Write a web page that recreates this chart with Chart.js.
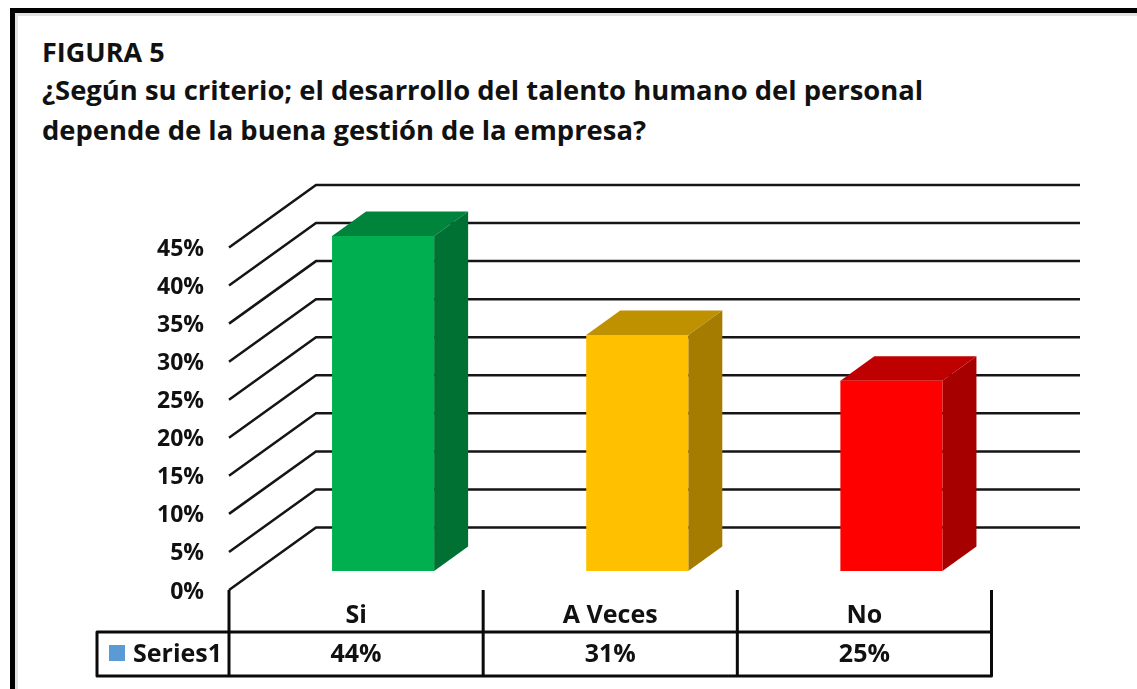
<!DOCTYPE html>
<html>
<head>
<meta charset="utf-8">
<style>
html,body{margin:0;padding:0;background:#fff;width:1137px;height:689px;overflow:hidden}
#frame{position:absolute;left:10px;top:8px;width:1300px;height:900px;border:5px solid #000;box-shadow:inset 3px 3px 0 #e2e2e2}
.t{position:absolute;left:42px;font-family:"Open Sans",sans-serif;font-weight:700;color:#111;white-space:nowrap}
#c{position:absolute;left:0;top:0}
</style>
</head>
<body>
<div id="frame"></div>
<div class="t" style="top:33px;font-size:27px">FIGURA 5</div>
<div class="t" style="top:71px;font-size:27.4px">¿Según su criterio; el desarrollo del talento humano del personal</div>
<div class="t" style="top:111px;font-size:27.4px">depende de la buena gestión de la empresa?</div>
<canvas id="c" width="1137" height="689"></canvas>
<script src="https://cdn.jsdelivr.net/npm/chart.js@4/dist/chart.umd.min.js"></script>
<script>
const categories = ["Si", "A Veces", "No"];
const seriesName = "Series1";
const values = [44, 31, 25];
const frontColors = ["#00B050", "#FFC000", "#FF0000"];
const topColors = ["#00843C", "#BF9000", "#BF0000"];
const sideColors = ["#007033", "#A67C00", "#A60000"];
const swatchColor = "#5B9BD5";
const FONT = '"Open Sans", sans-serif';
const INK = "#111";
const DEPTH_X = 87, DEPTH_Y = 62.5;      // wall offset
const BAR_DX = 34, BAR_DY = 24.5;        // bar depth
const SHIFT_X = 27, SHIFT_Y = 19;        // bar placement inside the floor
const GRID_RIGHT = 1080;
const TABLE_LEFT = 97, TABLE_TOP = 632, TABLE_BOTTOM = 676;

const fx3d = {
  id: "fx3d",
  beforeDatasetsDraw(chart) {
    const {ctx, scales: {y}, chartArea: a} = chart;
    ctx.save();
    ctx.strokeStyle = "#151515";
    ctx.lineWidth = 2.5;
    y.ticks.forEach((t, i) => {
      const py = y.getPixelForTick(i);
      ctx.beginPath();
      ctx.moveTo(a.left, py);
      ctx.lineTo(a.left + DEPTH_X, py - DEPTH_Y);
      ctx.lineTo(GRID_RIGHT, py - DEPTH_Y);
      ctx.stroke();
    });
    ctx.restore();
  },
  beforeDatasetDraw(chart, args) {
    const {ctx} = chart;
    ctx.save();
    ctx.translate(SHIFT_X, -SHIFT_Y);
    args.meta.data.forEach((bar, i) => {
      const p = bar.getProps(["x", "y", "base", "width"], true);
      const l = p.x - p.width / 2, r = p.x + p.width / 2;
      ctx.fillStyle = topColors[i];
      ctx.beginPath();
      ctx.moveTo(l, p.y);
      ctx.lineTo(l + BAR_DX, p.y - BAR_DY);
      ctx.lineTo(r + BAR_DX, p.y - BAR_DY);
      ctx.lineTo(r, p.y);
      ctx.closePath();
      ctx.fill();
      ctx.fillStyle = sideColors[i];
      ctx.beginPath();
      ctx.moveTo(r, p.y);
      ctx.lineTo(r + BAR_DX, p.y - BAR_DY);
      ctx.lineTo(r + BAR_DX, p.base - BAR_DY);
      ctx.lineTo(r, p.base);
      ctx.closePath();
      ctx.fill();
    });
  },
  afterDatasetDraw(chart) { chart.ctx.restore(); },
  afterDraw(chart) {
    const {ctx, scales: {x}, chartArea: a} = chart;
    ctx.save();
    ctx.strokeStyle = "#0a0a0a";
    ctx.lineWidth = 3;
    ctx.lineJoin = "round";
    ctx.beginPath();
    ctx.rect(TABLE_LEFT, TABLE_TOP, a.right - TABLE_LEFT, TABLE_BOTTOM - TABLE_TOP);
    const step = (a.right - a.left) / categories.length;
    for (let i = 0; i <= categories.length; i++) {
      ctx.moveTo(a.left + step * i, a.bottom);
      ctx.lineTo(a.left + step * i, TABLE_BOTTOM);
    }
    ctx.stroke();
    ctx.fillStyle = swatchColor;
    ctx.fillRect(109, 645, 16, 16);
    ctx.fillStyle = INK;
    ctx.font = "700 25px " + FONT;
    ctx.textBaseline = "middle";
    ctx.textAlign = "left";
    ctx.fillText(seriesName, 133, 655);
    ctx.textAlign = "center";
    values.forEach((v, i) => ctx.fillText(v + "%", x.getPixelForTick(i), 655));
    ctx.restore();
  }
};

new Chart(document.getElementById("c"), {
  type: "bar",
  data: {
    labels: categories,
    datasets: [{
      label: seriesName,
      data: values,
      backgroundColor: frontColors,
      borderWidth: 0,
      barPercentage: 0.4016,
      categoryPercentage: 1
    }]
  },
  options: {
    responsive: false,
    animation: false,
    devicePixelRatio: 1,
    layout: {padding: {left: 0, right: 145.5, top: 247.5, bottom: 57}},
    plugins: {legend: {display: false}, title: {display: false}, tooltip: {enabled: false}},
    scales: {
      x: {
        afterFit(s) { s.height = 42; },
        border: {display: false},
        grid: {display: false, drawTicks: false},
        ticks: {color: INK, font: {family: FONT, weight: "700", size: 25}, padding: 11, maxRotation: 0}
      },
      y: {
        min: 0, max: 45,
        afterFit(s) { s.width = 229; },
        border: {display: false},
        grid: {display: false, drawTicks: false},
        ticks: {stepSize: 5, color: INK, font: {family: FONT, weight: "700", size: 23}, padding: 25, labelOffset: 2, callback: v => v + "%"}
      }
    }
  },
  plugins: [fx3d]
});
</script>
</body>
</html>
